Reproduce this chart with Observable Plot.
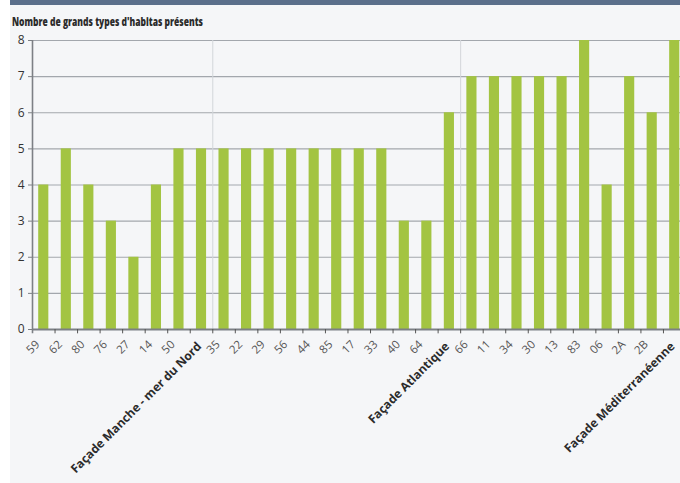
<!DOCTYPE html>
<html>
<head>
<meta charset="utf-8">
<script src="https://cdn.jsdelivr.net/npm/d3@7"></script>
<script src="https://cdn.jsdelivr.net/npm/@observablehq/plot@0.6"></script>
<style>
  html, body { margin: 0; padding: 0; background: #ffffff; overflow: hidden; width: 680px; height: 483px; }
  #panel { position: absolute; left: 10px; top: 0; width: 670px; height: 483px; background: #f5f6f8; overflow: hidden; }
  #bar { position: absolute; left: 0; top: 0; width: 670px; height: 5px; background: #5b6f8b; }
  #title { position: absolute; left: 2px; top: 12px; font-family: "Open Sans", sans-serif; font-weight: 800; font-size: 13px; color: #2b2b2b; white-space: nowrap; transform-origin: 0 0; }
  #chart { position: absolute; left: 0; top: 30px; }
</style>
</head>
<body>
<div id="panel">
  <div id="bar"></div>
  <div id="title">Nombre de grands types d'habitas présents</div>
  <div id="chart"></div>
</div>
<script>
const categories = ["59","62","80","76","27","14","50","Façade Manche - mer du Nord",
  "35","22","29","56","44","85","17","33","40","64","Façade Atlantique",
  "66","11","34","30","13","83","06","2A","2B","Façade Méditerranéenne"];
const values = [4,5,4,3,2,4,5,5, 5,5,5,5,5,5,5,5,3,3,6, 7,7,7,7,7,8,4,7,6,8];
const facades = ["Façade Manche - mer du Nord","Façade Atlantique","Façade Méditerranéenne"];
const yTicks = [0,1,2,3,4,5,6,7,8];

const data = categories.map((c, i) => ({cat: c, value: values[i], facade: facades.includes(c)}));

// condense the title to the reference width
const t = document.getElementById("title");
const tw = t.getBoundingClientRect().width;
t.style.transform = `scaleX(${191 / tw})`;

const W = 670, H = 453;
const x0 = 22, x1 = 675.5;
const step = (x1 - x0) / categories.length;
const half = step / 2;

const font = "'Open Sans', sans-serif";

const plot = Plot.plot({
  width: W,
  height: H,
  marginTop: 10,
  marginBottom: 154,
  marginLeft: 22,
  marginRight: 0,
  style: {background: "transparent", fontFamily: font, overflow: "hidden"},
  x: {domain: categories, range: [x0, x1], round: false, paddingInner: 0.55, paddingOuter: 0.275, axis: null},
  y: {domain: [0, 8], axis: null},
  marks: [
    Plot.ruleY(yTicks.filter(d => d > 0), {stroke: "#a3a7ad", strokeWidth: 1.2}),
    Plot.ruleX(facades.slice(0, 2), {x: d => d, y1: 0, y2: 8, dx: half, stroke: "#d3d6da", strokeWidth: 1}),
    Plot.barY(data, {x: "cat", y: "value", fill: "#a3c442"}),
    Plot.ruleY([0], {stroke: "#7d8085", strokeWidth: 2}),
    Plot.ruleX(categories, {x: d => d, y1: 0, y2: -0.12, dx: half, stroke: "#555", strokeWidth: 1}),
    Plot.ruleX([categories[0]], {x: d => d, y1: -0.12, y2: 8, dx: -half, stroke: "#7d8085", strokeWidth: 1.6}),
    Plot.axisY({ticks: yTicks, tickSize: 4, tickPadding: 4, stroke: "#7d8085", fill: "#333", fontSize: 12, label: null, fontFamily: font}),
    Plot.text(data.filter(d => !d.facade), {x: "cat", text: "cat", frameAnchor: "bottom", rotate: -45, textAnchor: "end", lineAnchor: "middle", dx: -6, dy: 13, fontSize: 11.5, fill: "#555", fontFamily: font}),
    Plot.text(data.filter(d => d.facade), {x: "cat", text: "cat", frameAnchor: "bottom", rotate: -45, textAnchor: "end", lineAnchor: "middle", dx: -2, dy: 15, fontSize: 12, fontWeight: "bold", fill: "#2b2b2b", fontFamily: font})
  ]
});
document.getElementById("chart").appendChild(plot);
</script>
</body>
</html>
